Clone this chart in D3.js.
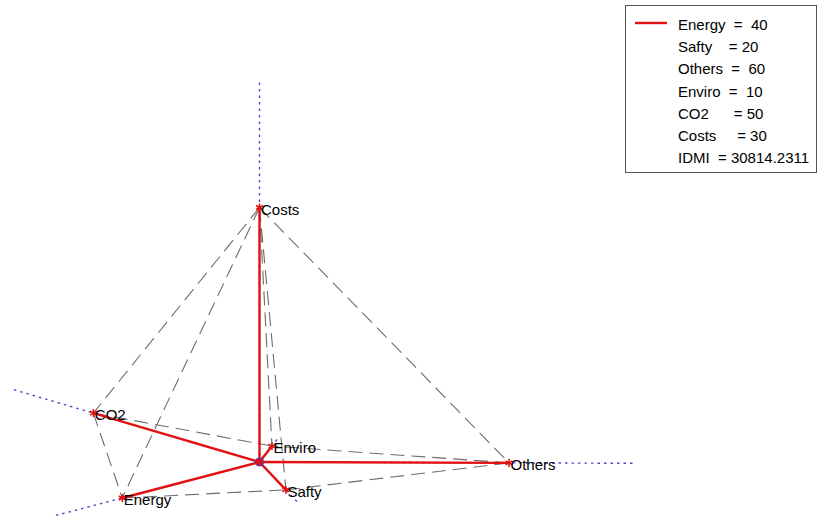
<!DOCTYPE html>
<html>
<head>
<meta charset="utf-8">
<script src="https://cdn.jsdelivr.net/npm/d3@7"></script>
<style>
  html, body { margin: 0; padding: 0; background: #fff; }
  svg { display: block; }
  text { font-family: "Liberation Sans", Arial, sans-serif; fill: #000; }
</style>
</head>
<body>
<svg id="chart" width="818" height="519"></svg>
<script>
// Criteria and their weights
const categories = ["Energy", "Safty", "Others", "Enviro", "CO2", "Costs"];
const values = [40, 20, 60, 10, 50, 30];
const idmiValue = 30814.2311;

// Legend rows (label padding keeps the "=" signs roughly aligned)
const legendLabels = ["Energy  =  ", "Safty    = ", "Others  =  ", "Enviro  =  ", "CO2      = ", "Costs     = ", "IDMI  = "];

// Base (pentagon) ring order; the apex is joined to every base vertex
const baseRing = ["CO2", "Energy", "Safty", "Others", "Enviro"];
const apex = "Costs";

// Projected direction of each axis (degrees, counter-clockwise from +x)
// and its foreshortening factor in the oblique view
const axisAngle = { Energy: 194.7, Safty: -46.6, Others: -0.2, Enviro: 52, CO2: 163.6, Costs: 90 };
const axisDepth = { Energy: 0.853, Safty: 0.462, Others: 1.0, Enviro: 0.487, CO2: 0.833, Costs: 2.04 };

const svg = d3.select("#chart");
const cx = 259.5, cy = 462;

const r = d3.scaleLinear().domain([0, 60]).range([0, 249.5]);
const axisExtent = 1.5; // axes run on past each point

function project(name, v) {
  const a = axisAngle[name] * Math.PI / 180;
  const len = r(v) * axisDepth[name];
  return [cx + len * Math.cos(a), cy - len * Math.sin(a)];
}

const pts = categories.map((c, i) => ({ name: c, value: values[i], p: project(c, values[i]), end: project(c, values[i] * axisExtent) }));
const byName = Object.fromEntries(pts.map(d => [d.name, d]));

// Wireframe edges
const edges = [];
baseRing.forEach((n, i) => edges.push([n, baseRing[(i + 1) % baseRing.length]]));
baseRing.forEach(n => edges.push([apex, n]));

const line = d3.line();

svg.append("g").selectAll("path").data(edges).join("path")
  .attr("d", e => line([byName[e[0]].p, byName[e[1]].p]))
  .attr("fill", "none")
  .attr("stroke", "#6d6d6d")
  .attr("stroke-width", 1.1)
  .attr("stroke-dasharray", "14,7");

// Dotted axes
svg.append("g").selectAll("path").data(pts).join("path")
  .attr("d", d => line([[cx, cy], d.end]))
  .attr("fill", "none")
  .attr("stroke", "#4a4ad0")
  .attr("stroke-width", 1.4)
  .attr("stroke-dasharray", "2.5,4");

// Weight spokes
svg.append("g").selectAll("path").data(pts).join("path")
  .attr("d", d => line([[cx, cy], d.p]))
  .attr("fill", "none")
  .attr("stroke", "#e41010")
  .attr("stroke-width", 2.4);

// Point markers
const star = d3.symbol().type(d3.symbolAsterisk).size(45);
svg.append("g").selectAll("path").data(pts).join("path")
  .attr("transform", d => `translate(${d.p[0]},${d.p[1]})`)
  .attr("d", star)
  .attr("fill", "none")
  .attr("stroke", "#e41010")
  .attr("stroke-width", 1.5);

// Origin marker
svg.append("circle")
  .attr("cx", cx).attr("cy", cy).attr("r", 4)
  .attr("fill", "#e41010")
  .attr("stroke", "#4040d0")
  .attr("stroke-width", 1.2);

// Axis labels
svg.append("g").selectAll("text").data(pts).join("text")
  .attr("x", d => d.p[0] + 1.5)
  .attr("y", d => d.p[1] + 7)
  .attr("font-size", 15)
  .text(d => d.name);

// Legend
const lg = svg.append("g");
lg.append("rect")
  .attr("x", 625.5).attr("y", 5.5).attr("width", 191).attr("height", 167)
  .attr("fill", "#fff").attr("stroke", "#555").attr("stroke-width", 1);
lg.append("line")
  .attr("x1", 635).attr("x2", 667).attr("y1", 23).attr("y2", 23)
  .attr("stroke", "#e41010").attr("stroke-width", 2.4);
const legendValues = values.map(String).concat([String(idmiValue)]);
lg.selectAll("text").data(legendLabels).join("text")
  .attr("x", 678)
  .attr("y", (d, i) => 30 + i * 22.2)
  .attr("font-size", 15)
  .style("white-space", "pre")
  .text((d, i) => d + legendValues[i]);
</script>
</body>
</html>
